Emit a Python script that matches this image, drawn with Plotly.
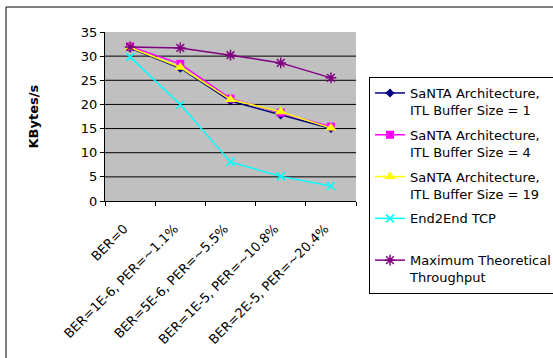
import plotly.graph_objects as go

categories = [
    "BER=0",
    "BER=1E-6, PER=~1.1%",
    "BER=5E-6, PER=~5.5%",
    "BER=1E-5, PER=~10.8%",
    "BER=2E-5, PER=~20.4%",
]

santa_buf1 = [31.7, 27.5, 20.7, 17.8, 15.0]
santa_buf4 = [32.0, 28.4, 21.2, 18.3, 15.4]
santa_buf19 = [31.8, 27.7, 21.0, 18.5, 15.1]
end2end_tcp = [29.8, 20.0, 8.1, 5.1, 3.1]
max_theoretical = [31.9, 31.7, 30.2, 28.6, 25.5]

y_ticks = [0, 5, 10, 15, 20, 25, 30, 35]

FONT = "DejaVu Sans"

series = [
    ("SaNTA Architecture,<br>ITL Buffer Size = 1", santa_buf1, "#000080",
     dict(symbol="diamond", size=7, color="#000080")),
    ("SaNTA Architecture,<br>ITL Buffer Size = 4", santa_buf4, "#FF00FF",
     dict(symbol="square", size=8, color="#FF00FF")),
    ("SaNTA Architecture,<br>ITL Buffer Size = 19", santa_buf19, "#FFFF00",
     dict(symbol="triangle-up", size=10, color="#FFFF00")),
    ("End2End TCP<br>\u00a0", end2end_tcp, "#00FFFF",
     dict(symbol="x-thin-open", size=8, color="#00FFFF",
          line=dict(color="#00FFFF", width=1.5))),
    ("Maximum Theoretical<br>Throughput", max_theoretical, "#800080",
     dict(symbol="asterisk-open", size=9, color="#800080",
          line=dict(color="#800080", width=1.5))),
]

fig = go.Figure()
for i, (name, vals, color, marker) in enumerate(series):
    fig.add_trace(go.Scatter(
        x=categories, y=vals, name=name, mode="lines+markers",
        line=dict(color=color, width=1.5), marker=marker,
        legendgroup=f"g{i}",
    ))

W, H = 553, 358
ml, mr, mt, mb = 105, 197, 32, 157
pw, ph = W - ml - mr, H - mt - mb

def px_x(p):
    return (p - ml) / pw

def px_y(p):
    return (H - mb - p) / ph

# horizontal grid lines between the axis ends
grid = [
    dict(type="line", xref="paper", yref="y", x0=0, x1=1, y0=v, y1=v,
         line=dict(color="black", width=1), layer="below")
    for v in y_ticks[1:-1]
]

fig.update_layout(
    width=W, height=H,
    margin=dict(l=ml, r=mr, t=mt, b=mb, pad=0, autoexpand=False),
    paper_bgcolor="white",
    plot_bgcolor="#C0C0C0",
    font=dict(family=FONT, size=12, color="black"),
    showlegend=True,
    legend=dict(
        x=px_x(369), y=px_y(77), xanchor="left", yanchor="top",
        bordercolor="black", borderwidth=1, bgcolor="white",
        font=dict(family=FONT, size=13, color="black"),
        valign="top", tracegroupgap=5, itemwidth=30,
        traceorder="grouped", maxheight=400,
    ),
    xaxis=dict(
        type="category", tickson="boundaries", ticks="outside", ticklen=4,
        tickcolor="black", showline=True, linecolor="black", linewidth=1,
        showgrid=False, tickangle=-45, range=[-0.5, 4.5],
        tickfont=dict(family=FONT, size=13),
        ticklabelstandoff=14, ticklabelshift=-6,
    ),
    yaxis=dict(
        range=[0, 35], tickvals=y_ticks, ticks="outside", ticklen=4,
        tickcolor="black", showline=True, linecolor="black", linewidth=1,
        showgrid=False, zeroline=False,
        tickfont=dict(family=FONT, size=13),
    ),
    shapes=grid + [
        dict(type="rect", xref="paper", yref="paper",
             x0=px_x(6), x1=px_x(600), y0=px_y(400), y1=px_y(7),
             line=dict(color="black", width=1), layer="below"),
    ],
    annotations=[
        dict(text="<b>KBytes/s</b>", xref="paper", yref="paper",
             x=px_x(33), y=0.5, textangle=-90, showarrow=False,
             xanchor="center", yanchor="middle",
             font=dict(family=FONT, size=13)),
    ],
)

fig.write_html("out.html")
